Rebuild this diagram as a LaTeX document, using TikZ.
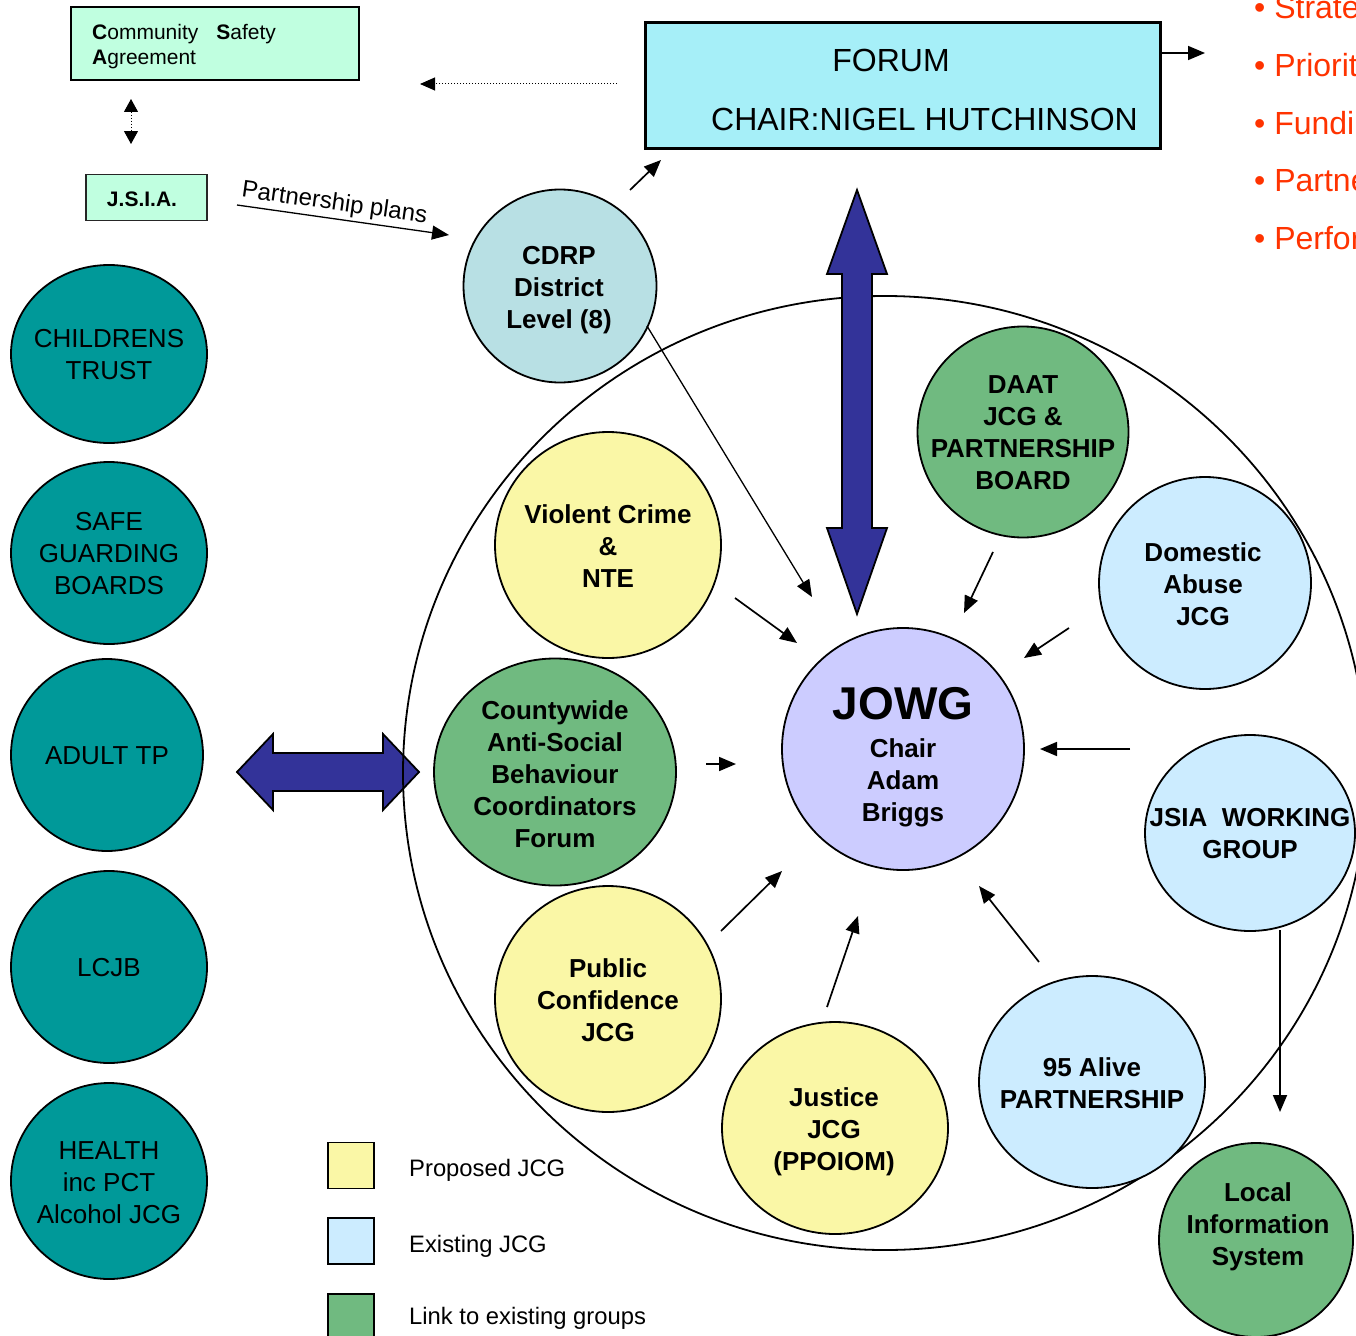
\documentclass[tikz,border=0pt]{standalone}
\usepackage{fontspec}
\setmainfont{Liberation Sans}
\usetikzlibrary{arrows.meta,shapes.geometric}
\definecolor{mint}{RGB}{192,255,224}
\definecolor{forumc}{RGB}{166,239,248}
\definecolor{cdrpc}{RGB}{184,224,228}
\definecolor{greenc}{RGB}{112,186,128}
\definecolor{bluec}{RGB}{204,236,255}
\definecolor{yellowc}{RGB}{250,247,166}
\definecolor{jowgc}{RGB}{204,204,255}
\definecolor{tealc}{RGB}{0,153,153}
\definecolor{navyc}{RGB}{51,51,153}
\definecolor{redc}{RGB}{255,51,0}
\begin{document}
\begin{tikzpicture}[x=1pt,y=-1pt,
  blob/.style={circle,draw=black,line width=1.8pt,inner sep=0pt},
  oval/.style={ellipse,draw=black,line width=1.8pt,inner sep=0pt},
  btxt/.style={align=center,font=\fontsize{26}{32}\selectfont\bfseries,inner sep=0pt},
  rtxt/.style={align=center,font=\fontsize{26}{32}\selectfont,inner sep=0pt},
  arr/.style={line width=1.7pt,-{Triangle[length=17pt,width=14pt]}},
  bigarrow/.style={fill=navyc,draw=black,line width=1.8pt,line join=miter},
  redtxt/.style={anchor=base west,text=redc,font=\fontsize{32}{38}\selectfont,inner sep=0pt},
  legtxt/.style={anchor=base west,font=\fontsize{23.8}{28}\selectfont,inner sep=0pt},
  legbox/.style={draw=black,line width=1.8pt,minimum size=46pt,inner sep=0pt}
]
\clip (0,0) rectangle (1356,1335);
\fill[white] (0,0) rectangle (1356,1335);

% top-left boxes
\node[draw=black,line width=2pt,fill=mint,minimum width=288pt,minimum height=73pt,inner sep=0pt] (csa) at (214.5,44) {};
\node[anchor=west,align=left,font=\fontsize{21}{25}\selectfont,inner sep=0pt] (csat) at (92,47)
  {\textbf{C}ommunity\hspace{18pt}\textbf{S}afety\\\textbf{A}greement};
\node[draw=black!85,line width=1.5pt,fill=mint,minimum width=121pt,minimum height=46pt,inner sep=0pt] (jsia) at (146.5,197.5) {};
\node[font=\fontsize{21}{25}\selectfont\bfseries,inner sep=0pt] (jsiat) at (142,199) {J.S.I.A.};

\coordinate (dd1) at (131,99);
\coordinate (dd2) at (131,144);
\draw[dotted,line width=1pt,{Triangle[length=13pt,width=14pt]}-{Triangle[length=13pt,width=14pt]}] (dd1) -- (dd2);

\coordinate (pp1) at (237,205);
\coordinate (pp2) at (449,235);
\draw[arr,line width=1.3pt] (pp1) -- node[sloped,above,pos=0.45,inner sep=3pt,font=\fontsize{24}{28}\selectfont] (ppt) {Partnership plans} (pp2);

% forum
\node[draw=black,line width=3pt,fill=forumc,minimum width=515pt,minimum height=125pt,inner sep=0pt] (forum) at (902.5,85.5) {};
\node[font=\fontsize{32}{38}\selectfont,inner sep=0pt] (forumt) at (891,60) {FORUM};
\node[font=\fontsize{32}{38}\selectfont,inner sep=0pt] (chairt) at (924.5,119) {CHAIR:NIGEL HUTCHINSON};

\coordinate (dl1) at (617,84);
\coordinate (dl2) at (420,84);
\draw[dotted,line width=1pt,-{Triangle[length=15pt,width=13pt]}] (dl1) -- (dl2);

\coordinate (fr1) at (1160,53);
\coordinate (fr2) at (1205,53);
\draw[arr] (fr1) -- (fr2);

% red bullets
\node[redtxt] (b1) at (1254,19) {\textbullet\ Strate};
\node[redtxt] (b2) at (1254,77) {\textbullet\ Priorit};
\node[redtxt] (b3) at (1254,134) {\textbullet\ Fundi};
\node[redtxt] (b4) at (1254,191) {\textbullet\ Partne};
\node[redtxt] (b5) at (1254,249) {\textbullet\ Perfor};

% horizontal big arrow
\draw[bigarrow] (237,772) -- (273,734) -- (273,753) -- (383,753) -- (383,734) -- (419,772)
  -- (383,810) -- (383,791) -- (273,791) -- (273,810) -- cycle;

% outer ellipse
\node[oval,minimum width=964pt,minimum height=954pt] (outer) at (885,773) {};

% vertical big arrow
\draw[bigarrow] (857,190) -- (887,274) -- (872,274) -- (872,528) -- (887,528) -- (857,614)
  -- (827,528) -- (842,528) -- (842,274) -- (827,274) -- cycle;

% left teal circles
\node[oval,fill=tealc,minimum width=196pt,minimum height=178pt] (ct) at (109,354) {};
\node[rtxt] (ctt) at (109,355) {CHILDRENS\\TRUST};
\node[oval,fill=tealc,minimum width=196pt,minimum height=182pt] (sg) at (109,553) {};
\node[rtxt] (sgt) at (109,554) {SAFE\\GUARDING\\BOARDS};
\node[oval,fill=tealc,minimum width=192pt,minimum height=192pt] (atp) at (107,755) {};
\node[rtxt] (atpt) at (107,756) {ADULT TP};
\node[oval,fill=tealc,minimum width=196pt,minimum height=192pt] (lcjb) at (109,967) {};
\node[rtxt] (lcjbt) at (109,968) {LCJB};
\node[oval,fill=tealc,minimum width=196pt,minimum height=196pt] (hl) at (109,1181) {};
\node[rtxt] (hlt) at (109,1183) {HEALTH\\inc PCT\\Alcohol JCG};

% inner circles
\node[blob,fill=cdrpc,minimum size=193pt] (cdrp) at (560,286) {};
\node[btxt] (cdrpt) at (559,290) {CDRP\\District\\Level (8)};
\node[blob,fill=yellowc,minimum size=226pt] (vc) at (608,545) {};
\node[btxt] (vct) at (608,546) {Violent Crime\\\&\\NTE};
\node[blob,fill=greenc,minimum size=211pt] (daat) at (1023,432) {};
\node[btxt] (daatt) at (1023,433) {DAAT\\JCG \&\\PARTNERSHIP\\BOARD};
\node[blob,fill=bluec,minimum size=212pt] (da) at (1205,583) {};
\node[btxt] (dat) at (1203,584) {Domestic\\Abuse\\JCG};
\node[oval,fill=greenc,minimum width=242pt,minimum height=227pt] (asb) at (555,772) {};
\node[btxt] (asbt) at (555,774) {Countywide\\Anti-Social\\Behaviour\\Coordinators\\Forum};
\node[blob,fill=jowgc,minimum size=242pt] (jowg) at (903,749) {};
\node[align=center,inner sep=0pt,font=\fontsize{26}{32}\selectfont\bfseries] (jowgt) at (903,757)
  {{\fontsize{46}{50}\selectfont JOWG}\\[6pt]Chair\\Adam\\Briggs};
\node[oval,fill=bluec,minimum width=210pt,minimum height=196pt] (jwg) at (1250,833) {};
\node[btxt] (jwgt) at (1250,834) {JSIA~~WORKING\\GROUP};
\node[blob,fill=yellowc,minimum size=226pt] (pc) at (608,999) {};
\node[btxt] (pct) at (608,1000) {Public\\Confidence\\JCG};
\node[oval,fill=yellowc,minimum width=226pt,minimum height=212pt] (jj) at (835,1128) {};
\node[btxt] (jjt) at (834,1132) {Justice\\JCG\\(PPOIOM)};
\node[oval,fill=bluec,minimum width=226pt,minimum height=212pt] (alive) at (1092,1082) {};
\node[btxt] (alivet) at (1092,1083) {95 Alive\\PARTNERSHIP};
\node[blob,fill=greenc,minimum size=194pt] (lis) at (1256,1240) {};
\node[btxt] (list) at (1258,1227) {Local\\Information\\System};

% small arrows
\coordinate (a1s) at (735,598);  \coordinate (a1e) at (797,643);
\coordinate (cd1) at (647,326);  \coordinate (cd2) at (812,597);
\coordinate (a3s) at (993,552);  \coordinate (a3e) at (964,613);
\coordinate (a4s) at (1069,628); \coordinate (a4e) at (1024,658);
\coordinate (a5s) at (1130,749); \coordinate (a5e) at (1040,749);
\coordinate (a6s) at (706,764);  \coordinate (a6e) at (736,764);
\coordinate (a7s) at (721,931);  \coordinate (a7e) at (782,871);
\coordinate (a8s) at (827,1007); \coordinate (a8e) at (858,916);
\coordinate (a9s) at (1039,962); \coordinate (a9e) at (979,886);
\coordinate (a10s) at (1280,930); \coordinate (a10e) at (1280,1112);
\coordinate (a11s) at (630,190); \coordinate (a11e) at (661,160);
\draw[arr] (a1s) -- (a1e);
\draw[arr,line width=1.3pt] (cd1) -- (cd2);
\draw[arr] (a3s) -- (a3e);
\draw[arr] (a4s) -- (a4e);
\draw[arr] (a5s) -- (a5e);
\draw[arr] (a6s) -- (a6e);
\draw[arr] (a7s) -- (a7e);
\draw[arr] (a8s) -- (a8e);
\draw[arr] (a9s) -- (a9e);
\draw[arr] (a10s) -- (a10e);
\draw[arr] (a11s) -- (a11e);

% legend
\node[legbox,fill=yellowc] (lg1) at (351,1165.5) {};
\node[legbox,fill=bluec] (lg2) at (351,1241) {};
\node[legbox,fill=greenc] (lg3) at (351,1317) {};
\node[legtxt] (lg1t) at (409,1176) {Proposed JCG};
\node[legtxt] (lg2t) at (409,1252) {Existing JCG};
\node[legtxt] (lg3t) at (409,1324) {Link to existing groups};
\end{tikzpicture}
\end{document}
